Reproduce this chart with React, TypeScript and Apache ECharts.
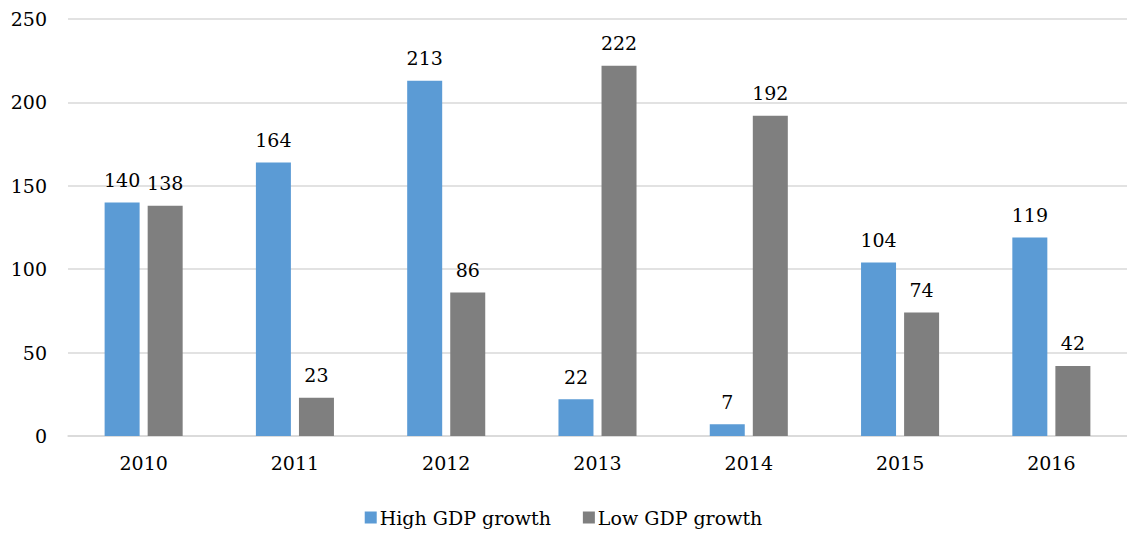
import React, { useEffect, useRef } from "react";
import * as echarts from "echarts";

const years = ["2010", "2011", "2012", "2013", "2014", "2015", "2016"];
const highGrowth = [140, 164, 213, 22, 7, 104, 119];
const lowGrowth = [138, 23, 86, 222, 192, 74, 42];
const yTicks = { min: 0, max: 250, interval: 50 };

const FONT = "'DejaVu Serif', serif";
const FONT_SIZE = 19;

export default function App() {
  const ref = useRef<HTMLDivElement>(null);

  useEffect(() => {
    if (!ref.current) return;
    const chart = echarts.init(ref.current, undefined, { renderer: "svg" });
    const label = {
      show: true,
      position: "top" as const,
      distance: 13,
      color: "#000",
      fontFamily: FONT,
      fontSize: FONT_SIZE,
    };
    chart.setOption({
      animation: false,
      backgroundColor: "#fff",
      textStyle: { fontFamily: FONT },
      grid: { left: 68, right: 0, top: 19, bottom: 102, containLabel: false },
      legend: {
        bottom: 6,
        left: "center",
        itemWidth: 12,
        itemHeight: 12,
        itemGap: 32,
        icon: "rect",
        textStyle: { fontFamily: FONT, fontSize: FONT_SIZE, color: "#000", padding: [0, 0, 0, -2] },
        data: ["High GDP growth", "Low GDP growth"],
      },
      xAxis: {
        type: "category",
        data: years,
        axisLine: { show: true, lineStyle: { color: "#D9D9D9", width: 1.5 } },
        axisTick: { show: false },
        axisLabel: { color: "#000", fontFamily: FONT, fontSize: FONT_SIZE, margin: 17 },
      },
      yAxis: {
        type: "value",
        min: yTicks.min,
        max: yTicks.max,
        interval: yTicks.interval,
        axisLine: { show: false },
        axisTick: { show: false },
        splitLine: { lineStyle: { color: "#D9D9D9", width: 1.5 } },
        axisLabel: { color: "#000", fontFamily: FONT, fontSize: FONT_SIZE, margin: 21 },
      },
      series: [
        {
          name: "High GDP growth",
          type: "bar",
          data: highGrowth,
          barWidth: 35,
          barGap: "23%",
          itemStyle: { color: "#5B9BD5" },
          label,
        },
        {
          name: "Low GDP growth",
          type: "bar",
          data: lowGrowth,
          barWidth: 35,
          barGap: "23%",
          itemStyle: { color: "#7F7F7F" },
          label,
        },
      ],
    });
    return () => chart.dispose();
  }, []);

  return (
    <div
      ref={ref}
      style={{ position: "fixed", top: 0, left: 0, width: 1127, height: 538 }}
    />
  );
}
